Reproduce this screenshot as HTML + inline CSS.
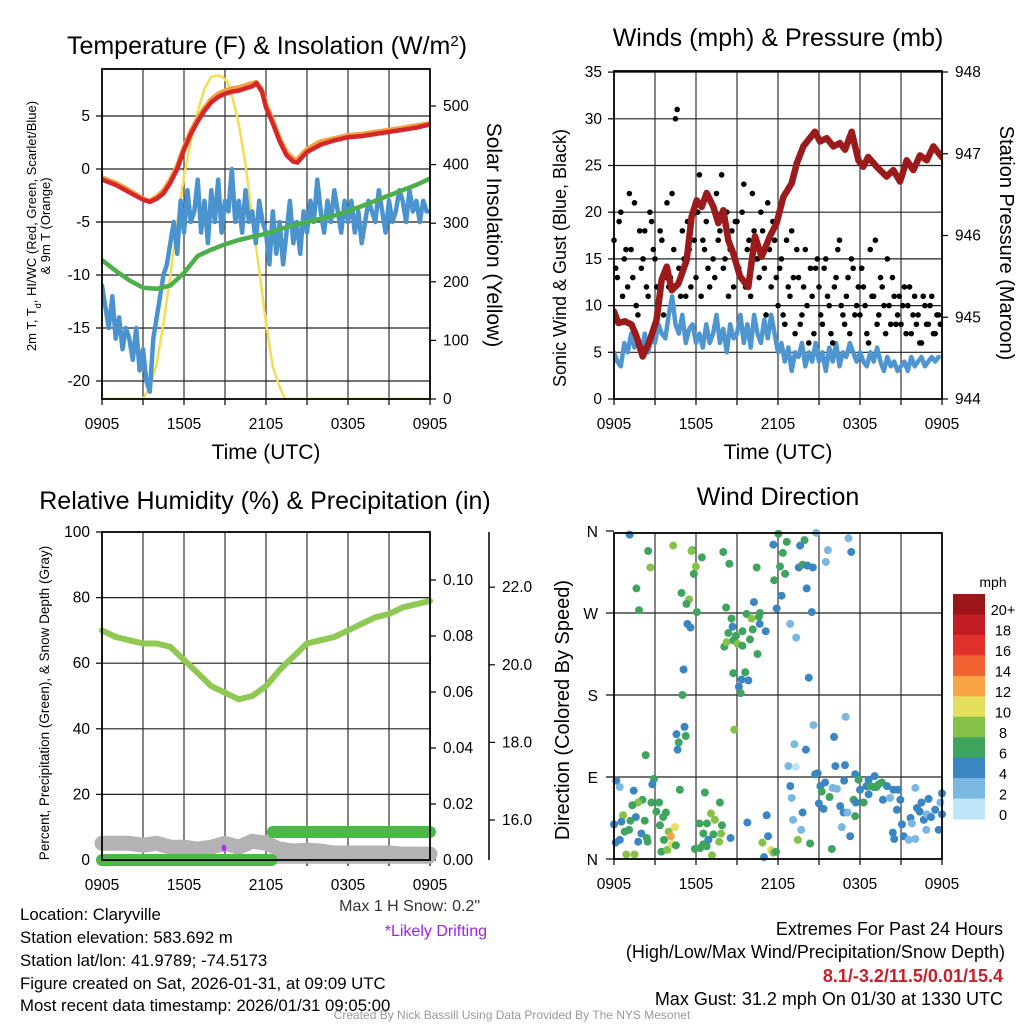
<!DOCTYPE html>
<html><head><meta charset="utf-8"><style>
html,body{margin:0;padding:0;background:#fff;}
svg{display:block;font-family:"Liberation Sans",Arial,sans-serif;}
</style></head><body>
<svg id="c" width="1024" height="1024" viewBox="0 0 1024 1024" xmlns="http://www.w3.org/2000/svg">
<rect x="0" y="0" width="1024" height="1024" fill="#fff"/>
<text x="267" y="54" font-size="25" text-anchor="middle">Temperature (F) &amp; Insolation (W/m<tspan baseline-shift="super" font-size="15">2</tspan>)</text>
<text x="778" y="46" font-size="25" text-anchor="middle">Winds (mph) &amp; Pressure (mb)</text>
<text x="265" y="509" font-size="25" text-anchor="middle">Relative Humidity (%) &amp; Precipitation (in)</text>
<text x="778" y="505" font-size="25" text-anchor="middle">Wind Direction</text>
<text x="266" y="459" font-size="21" text-anchor="middle">Time (UTC)</text>
<text x="778" y="459" font-size="21" text-anchor="middle">Time (UTC)</text>
<text transform="translate(36,226) rotate(-90)" font-size="13" text-anchor="middle">2m T, T<tspan baseline-shift="sub" font-size="9">d</tspan>, HI/WC (Red, Green, Scarlet/Blue)</text>
<text transform="translate(50,226) rotate(-90)" font-size="13" text-anchor="middle">&amp; 9m T (Orange)</text>
<text transform="translate(487,235) rotate(90)" font-size="21" text-anchor="middle">Solar Insolation (Yellow)</text>
<text transform="translate(566,258) rotate(-90)" font-size="18" text-anchor="middle">Sonic Wind &amp; Gust (Blue, Black)</text>
<text transform="translate(1000,243) rotate(90)" font-size="20" text-anchor="middle">Station Pressure (Maroon)</text>
<text transform="translate(49,703) rotate(-90)" font-size="13.5" text-anchor="middle">Percent, Precipitation (Green), &amp; Snow Depth (Gray)</text>
<text transform="translate(569,710) rotate(-90)" font-size="20" text-anchor="middle">Direction (Colored By Speed)</text>
<text x="993" y="587" font-size="14" text-anchor="middle">mph</text>
<text x="480" y="911" font-size="16" text-anchor="end" fill="#333">Max 1 H Snow: 0.2"</text>
<text x="487" y="936" font-size="16" text-anchor="end" fill="#a020f0">*Likely Drifting</text>
<g font-size="16.8">
<text x="20" y="920">Location: Claryville</text>
<text x="20" y="943">Station elevation: 583.692 m</text>
<text x="20" y="966">Station lat/lon: 41.9789; -74.5173</text>
<text x="20" y="989">Figure created on Sat, 2026-01-31, at 09:09 UTC</text>
<text x="20" y="1011">Most recent data timestamp: 2026/01/31 09:05:00</text>
</g>
<g font-size="18" text-anchor="end">
<text x="1003" y="935">Extremes For Past 24 Hours</text>
<text x="1005" y="958">(High/Low/Max Wind/Precipitation/Snow Depth)</text>
<text x="1003" y="982" fill="#c8202a" font-weight="bold">8.1/-3.2/11.5/0.01/15.4</text>
<text x="1003" y="1005">Max Gust: 31.2 mph On 01/30 at 1330 UTC</text>
</g>
<text x="512" y="1019" font-size="12" text-anchor="middle" fill="#999">Created By Nick Bassill Using Data Provided By The NYS Mesonet</text>
</svg>
<script>
// ---- data ----
const xTickLabels = ["0905","1505","2105","0305","0905"];
const tempTicks = [-20,-15,-10,-5,0,5];
const solarTicks = [0,100,200,300,400,500];
const windTicks = [0,5,10,15,20,25,30,35];
const presTicks = [944,945,946,947,948];
const rhTicks = [0,20,40,60,80,100];
const precipTicks = [0,0.02,0.04,0.06,0.08,0.10];
const snowTicks = [16,18,20,22];
const dirTicks = [0,90,180,270,360];
const dirLabels = ["N","E","S","W","N"];

const tempT = [0,1,2,3,3.5,4,4.5,5,5.5,6,6.5,7,7.5,8,8.5,9,9.5,10,10.5,11,11.3,11.7,12,12.5,13,13.5,14,14.3,14.7,15,16,17,18,19,20,21,22,23,24];
const tempRed = [-1,-1.5,-2.2,-2.9,-3.1,-2.8,-2.3,-1.3,0,1.8,3.3,4.5,5.5,6.3,6.8,7.1,7.3,7.4,7.6,7.8,8.1,7.3,5.8,4.3,2.6,1.3,0.7,0.6,1.2,1.6,2.3,2.7,3.0,3.1,3.3,3.5,3.7,3.9,4.2];
const tempOrange = [-0.8,-1.3,-2.0,-2.8,-3.0,-2.6,-2.0,-1.0,0.3,2.1,3.6,4.8,5.8,6.6,7.1,7.4,7.6,7.7,7.9,8.1,8.2,7.5,6.1,4.6,2.9,1.6,1.0,0.9,1.5,1.9,2.6,2.9,3.2,3.3,3.5,3.7,3.9,4.1,4.3];
const wcT = [0,1,2,3,4,5,6,7,8,9,10,11,12,13,14,15,16,17,18,19,20,21,22,23,24];
const wcGreen = [-8.6,-9.6,-10.5,-11.2,-11.3,-11,-9.8,-8.2,-7.6,-7.1,-6.7,-6.4,-6.1,-5.7,-5.3,-5,-4.7,-4.4,-4,-3.5,-3,-2.5,-2,-1.5,-0.9];
const dewBlue = [-11,-13,-15,-12,-16,-14,-17,-15,-16,-18,-15,-19,-17,-20,-21,-16,-14,-12,-10,-9,-7,-5,-8,-3,-6,-2,-5,-4,-1,-6,-3,-7,-2,-5,-1,-6,-3,-4,0,-5,-3,-6,-2,-5,-4,-7,-3,-5,-6,-9,-4,-8,-5,-9,-6,-3,-7,-5,-8,-4,-6,-3,-5,-1,-4,-6,-3,-5,-2,-4,-6,-3,-5,-3,-6,-4,-7,-5,-3,-4,-5,-2,-4,-6,-3,-5,-4,-2,-3,-5,-2,-4,-3,-5,-3,-4,-4];
const solarT = [0,3,3.5,4,4.5,5,5.5,6,6.5,7,7.5,8,8.5,8.8,9.2,9.5,10,10.5,11,11.5,12,12.5,13,13.4,24];
const solarW = [0,0,20,60,130,210,300,380,440,490,530,550,552,550,540,520,470,400,310,220,130,55,20,0,0];

const sonicWind = [5,4,3.5,6,5,7,5.5,6,5,7,5,6.5,6,8,7,6.5,9,11,8,7,9,6,7.5,8,6,7,5.5,8,6,7,9,6,7.5,5,8,6.5,7,9,6,8,5.5,9,7,6,8.5,6.5,9,7,5,6,4,5.5,3,5,4.5,6,3.5,5,4,6,4,5,3,5.5,4,6,3.5,5,4.5,6,5,4,5,4,3.5,5,4,5.5,4,3,4.5,3.5,4,3,3.5,4,3,4.5,3.5,4,4.5,3.5,4,4.5,4,4.5];
const gustA = [17,13,20,15,12,16,21,9,14,18,11,19,15,10,17,13,12,22,30,14,18,11,16,20,13,24,17,19,12,15,22,18,14,20,16,12,19,13,23,16,11,18,15,20,14,21,12,17,10,15,8,12,18,7,13,9,16,6,11,14,12,8,15,10,6,13,17,9,11,7,14,10,9,12,7,16,11,8,13,10,15,8,11,9,8,12,10,7,11,9,6,10,8,11,7,9];
const gustB = [14,19,11,16,22,13,10,18,15,12,20,16,12,18,9,21,13,16,31,11,15,19,12,17,20,11,16,14,21,13,17,24,15,11,18,19,14,20,12,17,22,15,13,18,9,16,19,13,14,9,17,11,13,16,8,12,10,14,7,15,9,14,11,7,12,16,10,8,13,15,9,12,14,10,6,11,17,9,12,7,10,13,8,11,10,7,12,9,8,6,11,8,10,7,9,8];
const presT = [0,0.32,0.8,1.29,1.66,2.1,2.63,3.12,3.49,3.86,4.22,4.71,5.32,5.68,6.05,6.42,6.78,7.27,7.63,8.0,8.36,8.73,9.22,9.83,10.32,10.8,11.41,11.9,12.39,13.0,13.37,13.85,14.7,15.07,15.56,16.05,16.53,16.9,17.39,17.88,18.24,18.6,19.22,19.95,20.44,20.93,21.42,21.9,22.39,22.88,23.37,23.98];
const presMb = [945.07,944.93,944.95,944.91,944.76,944.52,944.72,944.97,945.46,945.62,945.33,945.41,945.70,946.23,946.43,946.35,946.52,946.35,946.15,946.31,945.94,945.78,945.50,945.37,945.99,945.74,945.99,946.15,946.47,946.64,946.88,947.09,947.27,947.15,947.19,947.09,947.13,947.05,947.27,946.92,946.84,946.96,946.84,946.72,946.80,946.66,946.92,946.80,946.98,946.92,947.09,946.96];

const rhT = [0,1,2,3,4,5,6,7,8,9,10,11,12,13,14,15,16,17,18,19,20,21,22,23,24];
const rhPct = [70,68,67,66,66,65,61,57,53,51,49,50,53,58,62,66,67,68,70,72,74,75,77,78,79];
const precipT = [0,12.4,12.5,24];
const precipIn = [0,0,0.01,0.01];
const snowT = [0,2,3,4,5,6,7,8,9,10,11,12,13,14,15,16,17,18,19,20,21,22,23,24];
const snowIn = [15.4,15.4,15.35,15.4,15.3,15.3,15.25,15.3,15.4,15.3,15.45,15.4,15.25,15.2,15.22,15.2,15.15,15.15,15.15,15.15,15.15,15.12,15.12,15.12];

const dirT = [1.15,2.5,2.66,1.64,1.83,4.33,5.72,5.67,6.43,5.99,5.84,4.94,5.5,5.3,6.06,5.37,5.6,5.09,5.01,5.16,4.57,5.25,4.74,4.65,2.32,2.93,2.81,0.17,0.42,1.44,2.08,1.76,1.34,2.74,3.3,3.1,3.8,3.6,0.66,1.6,1.2,0.54,0,2.25,3.36,0.78,1.1,2.0,2.4,0.12,0.42,1.77,2.46,0.9,1.5,3.47,3.9,4.45,4.0,4.16,4.25,3.66,4.53,4.82,6.65,7.75,7.09,6.25,6.8,7.38,7.9,6.54,7.27,7.83,7.69,6.9,6.53,6.3,5.92,6.78,7.17,8.53,9.76,11.17,11.27,10.86,11.5,11.66,10.98,11.86,8.0,8.44,8.2,8.6,8.68,8.37,8.07,8.24,8.73,8.92,9.4,9.05,9.4,9.7,10.07,10.24,10.68,10.6,10.15,9.95,10.66,11.1,10.5,8.73,9.34,9.6,9.83,9.14,9.27,8.8,10.44,11.66,12.03,12.64,12.35,13.62,13.94,12.15,12.52,11.72,12.26,11.9,13.52,13.8,14.16,14.55,14.1,14.47,12.89,13.33,14.8,15.65,15.5,17.16,17.36,14.25,14.6,16.1,16.95,14.04,13.2,12.76,13.3,16.2,16.9,14.72,14.9,12.9,13.0,13.8,13.1,13.45,14.35,13.7,15.94,15.1,15.45,15.2,15.77,16.0,16.31,14.99,15.33,16.55,16.8,17.09,16.67,17.28,16.84,17.65,17.53,17.65,17.9,18.0,18.27,18.47,18.63,18.75,19.0,19.2,19.37,19.6,19.68,19.98,20.2,20.45,20.8,20.95,20.4,20.5,20.7,21.07,21.2,21.56,21.7,21.8,22.05,22.05,22.17,22.5,22.37,22.67,22.9,22.85,23.02,23.2,23.5,23.88,24,24,23.76,19.07,18.63,17.7];
const dirDeg = [356,338,320,297,273,344,339,338,331,321,313,292,285,280,271,258,254,208,180,145,137,135,128,120,114,88,82,86,79,75,65,62,59,62,62,52,51,46,48,46,42,41,38,42,37,30,32,28,23,18,21,19,19,5,5,8,10,35,30,25,16,21,15,76,73,62,50,39,39,43,37,28,27,28,19,21,16,12,11,14,4,23,40,48,25,18,10,7,2,8,337,324,276,264,255,248,233,238,240,245,250,236,234,269,264,282,270,266,252,241,258,250,225,204,197,205,196,189,182,142,320,345,357,348,336,344,350,321,313,306,289,275,320,323,322,320,297,271,258,243,358,339,326,352,337,199,147,134,156,120,126,102,101,102,103,93,94,80,67,51,43,21,17,32,11,80,84,74,68,78,77,61,55,58,51,51,35,25,86,93,65,47,87,76,62,80,71,80,79,79,82,84,65,80,67,76,76,65,29,22,54,38,25,21,45,39,22,78,56,62,52,43,49,32,66,46,54,62,72,49,32,91,87,62];
const dirSpd = [4,6,8,6,6,8,6,8,6,8,6,6,8,6,6,4,4,4,6,4,4,6,6,4,6,6,4,4,2,4,6,8,6,6,6,6,6,6,8,4,6,4,4,6,6,6,6,4,6,4,4,4,6,8,8,6,8,10,8,12,10,6,6,6,6,6,8,6,6,8,6,6,6,8,8,4,6,6,6,6,8,4,4,4,4,8,10,8,4,6,6,6,6,6,4,6,6,8,6,6,6,8,6,6,8,4,6,6,6,6,4,4,6,6,4,6,4,4,6,8,6,4,6,6,6,4,6,6,6,6,4,4,4,6,4,4,4,4,2,2,2,2,2,2,4,4,2,4,2,4,2,2,0.5,4,4,4,4,4,2,4,2,8,6,2,6,4,4,6,6,2,2,4,4,4,4,2,2,4,4,4,6,6,6,4,6,4,4,6,6,6,6,6,4,4,2,4,4,4,4,4,4,4,4,2,4,2,2,2,4,4,4,4,2,2,4,4,4,2,4,4,4,4,4,4];

const cbLabels = ["20+","18","16","14","12","10","8","6","4","2","0"];
const cbColors = ["#9b1519","#c21d25","#e0312a","#f0622f","#f7a445","#e4de5a","#86c24a","#3fa55e","#3a86c3","#7ab8e3","#bfe3f7"];

// ---- helpers ----
const svg = document.getElementById('c');
const NS = "http://www.w3.org/2000/svg";
function mk(tag, attrs, parent){const e=document.createElementNS(NS,tag);for(const k in attrs)e.setAttribute(k,attrs[k]);(parent||svg).appendChild(e);return e;}
function spdColor(s){const i=Math.min(10,Math.floor((s)/2));return cbColors[10-Math.max(0,i)];}

const X1=t=>102+t*328/24, X2=t=>614+t*328/24;
const Y1L=v=>169-v*10.6, Y1R=w=>399-w*0.586;
const Y2L=m=>399-m*9.34, Y2R=p=>399-(p-944)*81.75;
const Y3L=p=>860-p*3.28, Y3P=i=>860-i*2800, Y3S=s=>820-(s-16)*38.8;
const Y4=d=>859-d*0.9111;

const defs=mk('defs',{});
function clip(id,x0,y0,x1,y1){const c=mk('clipPath',{id:id},defs);mk('rect',{x:x0,y:y0,width:x1-x0,height:y1-y0},c);}
clip('cp1',102,69,430,399);
clip('cp2',614,71,942,399);

function frame(name,x0,y0,x1,y1,hVals,yf){
  const g=mk('g',{});
  
  
  for(let h=3;h<24;h+=3){const x=x0+h*(x1-x0)/24;mk('line',{x1:x,y1:y0,x2:x,y2:y1,stroke:'#333','stroke-width':1.2},g);}
  hVals.forEach(v=>{const y=yf(v);if(y>y0+1&&y<y1-1)mk('line',{x1:x0,y1:y,x2:x1,y2:y,stroke:'#222','stroke-width':1.2},g);});
  for(let h=0;h<=24;h+=3){const x=x0+h*(x1-x0)/24;mk('line',{x1:x,y1:y1,x2:x,y2:y1+6,stroke:'#000','stroke-width':1.2},g);}
  for(let i=0;i<5;i++){const x=x0+i*6*(x1-x0)/24;const t=mk('text',{x:x,y:y1+30,'font-size':15.5,'text-anchor':'middle'},g);t.textContent=xTickLabels[i];
    
    }
}
function border(name,x0,y0,x1,y1){const r=mk('rect',{x:x0,y:y0,width:x1-x0,height:y1-y0,fill:'none',stroke:'#000','stroke-width':1.8});
  
  }
function yTicks(name,vals,yf,x,side,fmt){
  const g=mk('g',{});
  
  
  vals.forEach(v=>{const y=yf(v);
    mk('line',{x1:x,y1:y,x2:x+(side<0?-6:6),y2:y,stroke:'#000','stroke-width':1.2},g);
    const t=mk('text',{x:x+(side<0?-12:13),y:y+5,'font-size':15.5,'text-anchor':side<0?'end':'start'},g);t.textContent=fmt?fmt(v):v;});
}
function line(name,ts,vs,xf,yf,color,w,cp){
  const d=ts.map((t,i)=>(i?'L':'M')+xf(t).toFixed(1)+','+yf(vs[i]).toFixed(1)).join('');
  const p=mk('path',{d:d,fill:'none',stroke:color,'stroke-width':w,'stroke-linejoin':'round','stroke-linecap':'round'});
  if(cp)p.setAttribute('clip-path','url(#'+cp+')');
  
  
}

// ---- panel 1 ----
frame('temp',102,69,430,399,tempTicks,Y1L);
yTicks('temp-y-ticks',tempTicks,Y1L,102,-1);
yTicks('solar-y-ticks',solarTicks,Y1R,430,1);
line('solar-line',solarT,solarW,X1,Y1R,'#f5dc50',2.5,'cp1');
line('dewpoint-line',dewBlue.map((v,i)=>i*0.25),dewBlue,X1,Y1L,'#4a93cf',4.5,'cp1');
line('windchill-line',wcT,wcGreen,X1,Y1L,'#4cb04a',4.5,'cp1');
line('temp-9m-line',tempT,tempOrange,X1,Y1L,'#f4a040',4.5,'cp1');
line('temp-2m-line',tempT,tempRed,X1,Y1L,'#d7262a',4.5,'cp1');
border('temp',102,69,430,399);

// ---- panel 2 ----
frame('winds',614,71,942,399,windTicks,Y2L);
yTicks('wind-y-ticks',windTicks,Y2L,614,-1);
yTicks('pressure-y-ticks',presTicks,Y2R,942,1);
line('sonic-wind-line',sonicWind.map((v,i)=>i*0.25),sonicWind,X2,Y2L,'#4f96d0',4.5,'cp2');
{const g=mk('g',{});


gustA.forEach((v,i)=>{const c=mk('circle',{cx:X2(i*0.25),cy:Y2L(v),r:2.8,fill:'#000'},g);
  
  });
gustB.forEach((v,i)=>{const c=mk('circle',{cx:X2(i*0.25+0.125),cy:Y2L(v),r:2.8,fill:'#000'},g);
  
  });}
line('pressure-line',presT,presMb,X2,Y2R,'#9b1a1c',6.5,'cp2');
border('winds',614,71,942,399);

// ---- panel 3 ----
frame('humidity',102,532,430,860,rhTicks,Y3L);
yTicks('rh-y-ticks',rhTicks,Y3L,102,-1);
yTicks('precip-y-ticks',precipTicks,Y3P,430,1,v=>v.toFixed(2));
{const a=mk('line',{x1:489,y1:532,x2:489,y2:860,stroke:'#000','stroke-width':1.5});

}
yTicks('snow-y-ticks',snowTicks,Y3S,489,1,v=>v.toFixed(1));
line('snow-depth-line',snowT,snowIn,X1,Y3S,'#b3b3b3',15);
line('snow-depth-base',[12.5,24],[15.0,15.0],X1,Y3S,'#b3b3b3',10);
// precip: draw only flat segments (steps not connected)
for(let i=0;i<precipT.length-1;i++){
  if(precipIn[i]===precipIn[i+1]) line('precip-segment',[precipT[i],precipT[i+1]],[precipIn[i],precipIn[i+1]],X1,Y3P,'#4cb848',12);
}
line('rh-line',rhT,rhPct,X1,Y3L,'#8fc853',6);
{const c=mk('ellipse',{cx:224,cy:848,rx:2.5,ry:3.5,fill:'#a43be8'});

}
border('humidity',102,532,430,860);

// ---- panel 4 ----
frame('direction',614,533,942,859,dirTicks,Y4);
{const g=mk('g',{});


dirTicks.forEach((d,i)=>{const y=Y4(d);mk('line',{x1:614,y1:y,x2:606,y2:y,stroke:'#000','stroke-width':1.2},g);
  const t=mk('text',{x:598,y:y+6,'font-size':15.5,'text-anchor':'end'},g);t.textContent=dirLabels[i];});}
{const g=mk('g',{});


dirT.forEach((t,i)=>{const c=mk('circle',{cx:X2(t),cy:Y4(dirDeg[i]),r:4,fill:spdColor(dirSpd[i])},g);
  
  });}
border('direction',614,533,942,859);
{const g=mk('g',{});


const top=594,h=225/11;
cbColors.forEach((c,i)=>{mk('rect',{x:953,y:top+i*h,width:32,height:h+0.5,fill:c},g);
  const t=mk('text',{x:1003,y:top+i*h+h/2+11,'font-size':14.5,'text-anchor':'middle'},g);t.textContent=cbLabels[i];});}
</script>
</body></html>
